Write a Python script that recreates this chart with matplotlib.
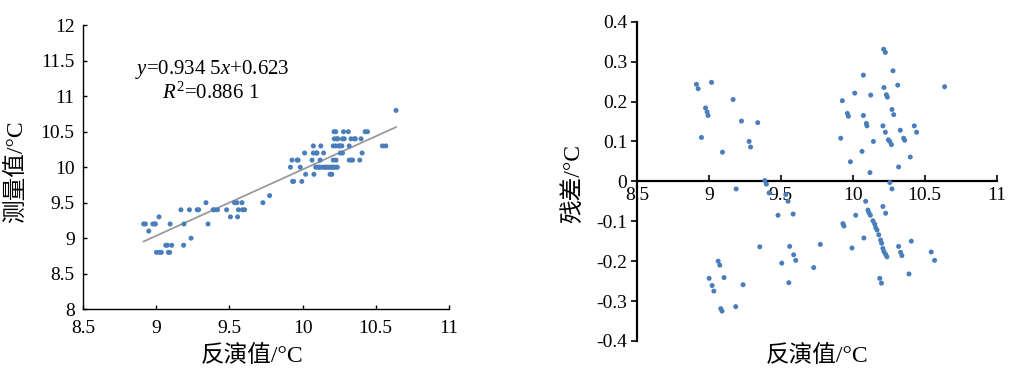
"""
Inversion vs measured temperature: scatter + fit, and residuals
"""

import numpy as np
import matplotlib
matplotlib.use('Agg')
import matplotlib.pyplot as plt

plt.rcParams['font.family'] = ['Liberation Serif', 'Noto Sans CJK SC']
plt.rcParams['axes.unicode_minus'] = False
plt.rcParams['mathtext.fontset'] = 'custom'
plt.rcParams['mathtext.rm'] = 'Liberation Serif'
plt.rcParams['mathtext.it'] = 'Liberation Serif:italic'

# 数据
# 反演值 (x), 测量值 (measured), 残差 (residual)
inv_low = [8.914, 8.926, 9.019, 8.977, 8.988, 8.995, 8.949, 9.095, 9.169, 9.227,
           9.340, 9.280, 9.290, 9.389, 9.400, 9.190, 9.419, 9.535, 9.551, 9.481,
           9.586, 9.354, 9.562, 9.590, 9.604, 9.775, 9.729, 9.507, 9.556, 9.065,
           9.076, 9.002, 9.023, 9.035, 9.106, 9.238, 9.083, 9.092, 9.187]
meas_low = [9.2, 9.2, 9.3, 9.2, 9.2, 9.2, 9.1, 9.2, 9.4, 9.4,
            9.5, 9.4, 9.4, 9.4, 9.4, 9.2, 9.4, 9.5, 9.5, 9.4,
            9.5, 9.2, 9.4, 9.4, 9.4, 9.6, 9.5, 9.3, 9.3, 8.9,
            8.9, 8.8, 8.8, 8.8, 8.9, 9.0, 8.8, 8.8, 8.9]
res_low = [0.243, 0.232, 0.248, 0.184, 0.174, 0.165, 0.110, 0.073, 0.205, 0.151,
           0.147, 0.100, 0.086, 0.002, -0.007, -0.019, -0.029, -0.033, -0.050, -0.085,
           -0.082, -0.164, -0.163, -0.184, -0.198, -0.158, -0.216, -0.205, -0.254, -0.200,
           -0.210, -0.243, -0.261, -0.275, -0.241, -0.259, -0.319, -0.325, -0.314]

inv_high = [10.215, 10.227, 10.280, 10.074, 10.639, 10.313, 10.217, 10.014, 10.125, 10.234,
            10.241, 9.928, 10.273, 10.285, 9.963, 9.970, 10.074, 10.095, 10.099, 10.210,
            10.227, 10.331, 10.428, 10.444, 10.248, 10.257, 10.269, 10.354, 10.361, 10.144,
            9.917, 10.065, 10.400, 9.984, 10.319, 10.120, 10.258, 10.273, 10.090, 10.210,
            10.229, 10.021, 10.106, 10.113, 10.123, 9.932, 9.939, 10.141, 10.153, 10.160,
            10.169, 10.181, 10.078, 10.194, 10.201, 10.210, 10.217, 10.229, 10.238, 9.995,
            10.407, 10.319, 10.333, 10.342, 10.546, 10.569, 10.391, 10.188, 10.200]
meas_high = [10.5, 10.5, 10.5, 10.3, 10.8, 10.5, 10.4, 10.2, 10.3, 10.4,
             10.4, 10.1, 10.4, 10.4, 10.1, 10.1, 10.2, 10.2, 10.2, 10.3,
             10.3, 10.4, 10.5, 10.5, 10.3, 10.3, 10.3, 10.4, 10.4, 10.2,
             10.0, 10.1, 10.4, 10.0, 10.3, 10.1, 10.2, 10.2, 10.0, 10.1,
             10.1, 9.9, 10.0, 10.0, 10.0, 9.8, 9.8, 10.0, 10.0, 10.0,
             10.0, 10.0, 9.9, 10.0, 10.0, 10.0, 10.0, 10.0, 10.0, 9.8,
             10.2, 10.1, 10.1, 10.1, 10.3, 10.3, 10.1, 9.9, 9.9]
res_high = [0.331, 0.323, 0.277, 0.266, 0.237, 0.241, 0.235, 0.221, 0.216, 0.217,
            0.211, 0.202, 0.180, 0.167, 0.170, 0.163, 0.165, 0.145, 0.139, 0.139,
            0.123, 0.128, 0.139, 0.123, 0.104, 0.100, 0.092, 0.108, 0.103, 0.100,
            0.108, 0.075, 0.061, 0.049, 0.036, 0.022, -0.003, -0.019, -0.050, -0.063,
            -0.080, -0.085, -0.072, -0.079, -0.085, -0.106, -0.112, -0.099, -0.107, -0.116,
            -0.122, -0.134, -0.142, -0.147, -0.155, -0.168, -0.176, -0.183, -0.189, -0.167,
            -0.150, -0.163, -0.178, -0.186, -0.177, -0.198, -0.232, -0.243, -0.255]

inv = np.array(inv_low + inv_high)
meas = np.array(meas_low + meas_high)
res = np.array(res_low + res_high)

slope, intercept = 0.9345, 0.623

x_ticks = [8.5, 9, 9.5, 10, 10.5, 11]
x_tick_labels = ['8.5', '9', '9.5', '10', '10.5', '11']
y1_ticks = [8, 8.5, 9, 9.5, 10, 10.5, 11, 11.5, 12]
y1_tick_labels = ['8', '8.5', '9', '9.5', '10', '10.5', '11', '11.5', '12']
y2_ticks = [-0.4, -0.3, -0.2, -0.1, 0, 0.1, 0.2, 0.3, 0.4]
y2_tick_labels = ['-0.4', '-0.3', '-0.2', '-0.1', '0', '0.1', '0.2', '0.3', '0.4']

DOT = '#4a7ebb'

fig = plt.figure(figsize=(10.19, 3.77), dpi=100)

# 左图: 测量值 vs 反演值
ax1 = fig.add_axes([0.0815, 0.180, 0.359, 0.753])
ax1.scatter(inv, meas, s=13, color=DOT, edgecolors='none', zorder=3)
xf = np.array([inv.min(), inv.max()])
ax1.plot(xf, slope * xf + intercept, color='#9a9a9a', linewidth=1.3, zorder=2)
ax1.set_xlim(8.5, 11)
ax1.set_ylim(8, 12)
ax1.set_xticks(x_ticks)
ax1.set_xticklabels(x_tick_labels)
ax1.set_yticks(y1_ticks)
ax1.set_yticklabels(y1_tick_labels)
for s in ['top', 'right']:
    ax1.spines[s].set_visible(False)
for s in ['left', 'bottom']:
    ax1.spines[s].set_linewidth(1.0)
ax1.tick_params(direction='in', length=3, width=1.0, labelsize=14)
ax1.tick_params(axis='x', pad=8)
ax1.tick_params(axis='y', pad=6)
ax1.text(9.38, 11.38, r'$y$=0.934 5$x$+0.623', fontsize=15, ha='center', va='center')
ax1.text(9.37, 11.04, r'$R^2$=0.886 1', fontsize=15, ha='center', va='center')

# 右图: 残差
ax2 = fig.add_axes([0.625, 0.0955, 0.353, 0.847])
ax2.scatter(inv, res, s=13, color=DOT, edgecolors='none', zorder=3)
ax2.set_xlim(8.5, 11)
ax2.set_ylim(-0.4, 0.4)
ax2.set_xticks(x_ticks)
ax2.set_xticklabels(x_tick_labels)
ax2.set_yticks(y2_ticks)
ax2.set_yticklabels(y2_tick_labels)
for s in ['top', 'right']:
    ax2.spines[s].set_visible(False)
ax2.spines['bottom'].set_position(('data', 0))
for s in ['left', 'bottom']:
    ax2.spines[s].set_linewidth(1.6)
ax2.tick_params(axis='x', direction='in', length=4, width=1.2, labelsize=14, pad=4)
ax2.tick_params(axis='y', direction='out', length=4, width=1.2, labelsize=14, pad=3)

# 轴标签
fig.text(252 / 1019, 1 - 356 / 377, '反演值/°C', fontsize=17, ha='center', va='center')
fig.text(817 / 1019, 1 - 356 / 377, '反演值/°C', fontsize=17, ha='center', va='center')
fig.text(17 / 1019, 1 - 172 / 377, '测量值/°C', fontsize=17, ha='center', va='center', rotation=90)
fig.text(573 / 1019, 1 - 184 / 377, '残差/°C', fontsize=17, ha='center', va='center', rotation=90)

plt.savefig('out.png', dpi=100, facecolor='white')
plt.close()
